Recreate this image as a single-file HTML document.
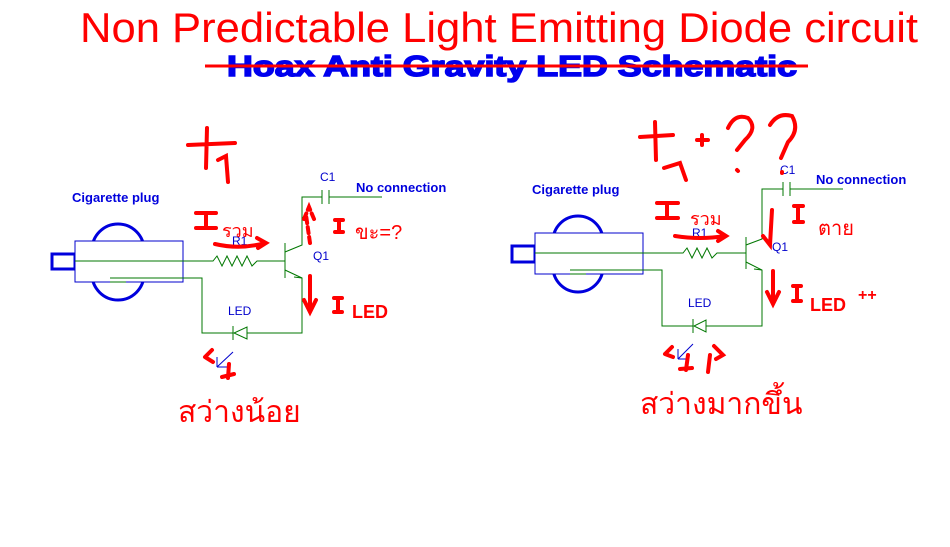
<!DOCTYPE html>
<html><head><meta charset="utf-8"><style>
html,body{margin:0;padding:0;background:#fff;}
svg{display:block;}
</style></head><body>
<svg width="950" height="547" viewBox="0 0 950 547" xmlns="http://www.w3.org/2000/svg">
<rect width="950" height="547" fill="#fff"/>
<text x="80" y="42" font-family="Liberation Sans, sans-serif" font-size="42" fill="#ff0000" textLength="838" lengthAdjust="spacingAndGlyphs">Non Predictable Light Emitting Diode circuit</text>
<text x="227" y="76" font-family="Liberation Sans, sans-serif" font-weight="bold" font-size="29" fill="#0000ee" stroke="#0000ee" stroke-width="1.5" textLength="570" lengthAdjust="spacingAndGlyphs">Hoax Anti Gravity LED Schematic</text>
<line x1="205" y1="66" x2="808" y2="66" stroke="#ff0000" stroke-width="3"/>

<!-- LEFT CIRCUIT -->
<g>
<path d="M92,250 A26,26 0 0 1 144,250 L144,274 A26,26 0 0 1 92,274 Z" fill="none" stroke="#0000dd" stroke-width="3"/>
<rect x="52" y="254" width="23" height="15" fill="none" stroke="#0000dd" stroke-width="3"/>
<rect x="75" y="241" width="108" height="41" fill="#fff" stroke="#0000cc" stroke-width="1"/>
<g stroke="#007700" stroke-width="1" fill="none">
<polyline points="75,261 213,261 217,256 222,266 227,256 232,266 237,256 242,266 247,256 252,266 257,261 285,261"/>
<line x1="285" y1="243" x2="285" y2="278"/>
<polyline points="285,252 302,245 302,197 322,197"/>
<line x1="322" y1="190" x2="322" y2="204"/><line x1="329" y1="190" x2="329" y2="204"/>
<line x1="329" y1="197" x2="382" y2="197"/>
<polyline points="285,270 302,278 302,333 247,333"/>
<polyline points="302,278 294,277 M302,278 296,272"/>
<polygon points="247,327 247,339 234,333"/>
<line x1="233" y1="326" x2="233" y2="340"/>
<polyline points="233,333 202,333 202,278 110,278"/>
<line x1="110" y1="282" x2="126" y2="282"/>
</g>
<g stroke="#0000cc" stroke-width="1"><line x1="217" y1="367" x2="233" y2="352"/><line x1="217" y1="357" x2="217" y2="367"/><line x1="217" y1="367" x2="227" y2="367"/></g>
<text x="72" y="202" font-family="Liberation Sans, sans-serif" font-weight="bold" font-size="13" fill="#0000dd">Cigarette plug</text>
<text x="232" y="245" font-family="Liberation Sans, sans-serif" font-size="12" fill="#0000cc">R1</text>
<text x="313" y="260" font-family="Liberation Sans, sans-serif" font-size="12" fill="#0000cc">Q1</text>
<text x="320" y="181" font-family="Liberation Sans, sans-serif" font-size="12" fill="#0000cc">C1</text>
<text x="356" y="192" font-family="Liberation Sans, sans-serif" font-weight="bold" font-size="13" fill="#0000dd">No connection</text>
<text x="228" y="315" font-family="Liberation Sans, sans-serif" font-size="12" fill="#0000cc">LED</text>
<g stroke="#ff0000" stroke-width="4" fill="none" stroke-linecap="round">
<path d="M188,145 L235,143 M207,128 L206,168 M218,160 L226,156 L228,182"/>
<path d="M196,213 L216,213 M206,213 L206,228 M196,228 L216,228"/>
<path d="M215,244 Q240,250 265,243 M257,238 L266,243 L258,248"/>
<path d="M310,243 L306,215 M304,219 L309,207 L314,219" stroke-dasharray="6,4"/>
<path d="M310,276 L310,310 M304,300 L310,312 L316,300"/>
<path d="M335,220 L343,220 M339,220 L339,232 M335,232 L343,232"/>
<path d="M334,298 L342,298 M338,298 L338,312 M334,312 L342,312"/>
<path d="M205,357 L212,350 M205,357 L213,362 M229,364 L228,378 M222,377 L234,374"/>
</g>
<text x="222" y="237" font-family="Liberation Sans, sans-serif" font-size="18" fill="#ff0000">รวม</text>
<text x="355" y="239" font-family="Liberation Sans, sans-serif" font-size="20" fill="#ff0000">ขะ=?</text>
<text x="352" y="318" font-family="Liberation Sans, sans-serif" font-size="18" font-weight="bold" fill="#ff0000">LED</text>
<text x="178" y="422" font-family="Liberation Sans, sans-serif" font-size="30" fill="#ff0000">สว่างน้อย</text>
</g>

<!-- RIGHT CIRCUIT -->
<g>
<path d="M553,241 A25,25 0 0 1 603,241 L603,267 A25,25 0 0 1 553,267 Z" fill="none" stroke="#0000dd" stroke-width="3"/>
<rect x="512" y="246" width="23" height="16" fill="none" stroke="#0000dd" stroke-width="3"/>
<rect x="535" y="233" width="108" height="41" fill="#fff" stroke="#0000cc" stroke-width="1"/>
<g stroke="#007700" stroke-width="1" fill="none">
<polyline points="535,253 683,253 687,248 692,258 697,248 702,258 707,248 712,258 717,253 746,253"/>
<line x1="746" y1="237" x2="746" y2="269"/>
<polyline points="746,245 762,239 762,189 783,189"/>
<line x1="783" y1="182" x2="783" y2="196"/><line x1="790" y1="182" x2="790" y2="196"/>
<line x1="790" y1="189" x2="843" y2="189"/>
<polyline points="746,262 762,270 762,326 706,326"/>
<polyline points="762,270 754,269 M762,270 756,264"/>
<polygon points="706,320 706,332 694,326"/>
<line x1="693" y1="319" x2="693" y2="333"/>
<polyline points="693,326 662,326 662,270 570,270"/>
<line x1="570" y1="274" x2="586" y2="274"/>
</g>
<g stroke="#0000cc" stroke-width="1"><line x1="678" y1="359" x2="693" y2="344"/><line x1="678" y1="349" x2="678" y2="359"/><line x1="678" y1="359" x2="688" y2="359"/></g>
<text x="532" y="194" font-family="Liberation Sans, sans-serif" font-weight="bold" font-size="13" fill="#0000dd">Cigarette plug</text>
<text x="692" y="237" font-family="Liberation Sans, sans-serif" font-size="12" fill="#0000cc">R1</text>
<text x="772" y="251" font-family="Liberation Sans, sans-serif" font-size="12" fill="#0000cc">Q1</text>
<text x="780" y="174" font-family="Liberation Sans, sans-serif" font-size="12" fill="#0000cc">C1</text>
<text x="816" y="184" font-family="Liberation Sans, sans-serif" font-weight="bold" font-size="13" fill="#0000dd">No connection</text>
<text x="688" y="307" font-family="Liberation Sans, sans-serif" font-size="12" fill="#0000cc">LED</text>
<g stroke="#ff0000" stroke-width="4" fill="none" stroke-linecap="round">
<path d="M640,137 L673,135 M655,122 L656,160 M664,168 L680,163 L686,180"/>
<path d="M697,140 L708,140 M702,135 L702,145"/>
<path d="M728,128 Q735,113 748,118 Q758,128 745,140 L737,150 M737,170 L738,171"/>
<path d="M770,125 Q778,112 792,116 Q800,130 788,142 L781,158 M782,172 L782,173"/>
<path d="M657,203 L678,203 M667,203 L667,218 M657,218 L678,218"/>
<path d="M675,236 Q700,240 725,236 M718,231 L726,236 L718,241"/>
<path d="M772,210 L770,245 L763,236"/>
<path d="M773,271 L773,302 M767,292 L773,304 L779,292"/>
<path d="M794,206 L803,206 M798,206 L798,222 M794,222 L803,222"/>
<path d="M793,286 L801,286 M797,286 L797,301 M793,301 L801,301"/>
<path d="M665,354 L672,347 M665,354 L673,357 M688,355 L686,370 M680,369 L692,368 M710,355 L708,372 M714,346 L723,355 L716,359"/>
</g>
<text x="690" y="225" font-family="Liberation Sans, sans-serif" font-size="18" fill="#ff0000">รวม</text>
<text x="818" y="235" font-family="Liberation Sans, sans-serif" font-size="20" fill="#ff0000">ตาย</text>
<text x="810" y="311" font-family="Liberation Sans, sans-serif" font-size="18" font-weight="bold" fill="#ff0000">LED</text>
<text x="858" y="300" font-family="Liberation Sans, sans-serif" font-size="16" font-weight="bold" fill="#ff0000">++</text>
<text x="640" y="414" font-family="Liberation Sans, sans-serif" font-size="30" fill="#ff0000">สว่างมากขึ้น</text>
</g>
</svg>
</body></html>
